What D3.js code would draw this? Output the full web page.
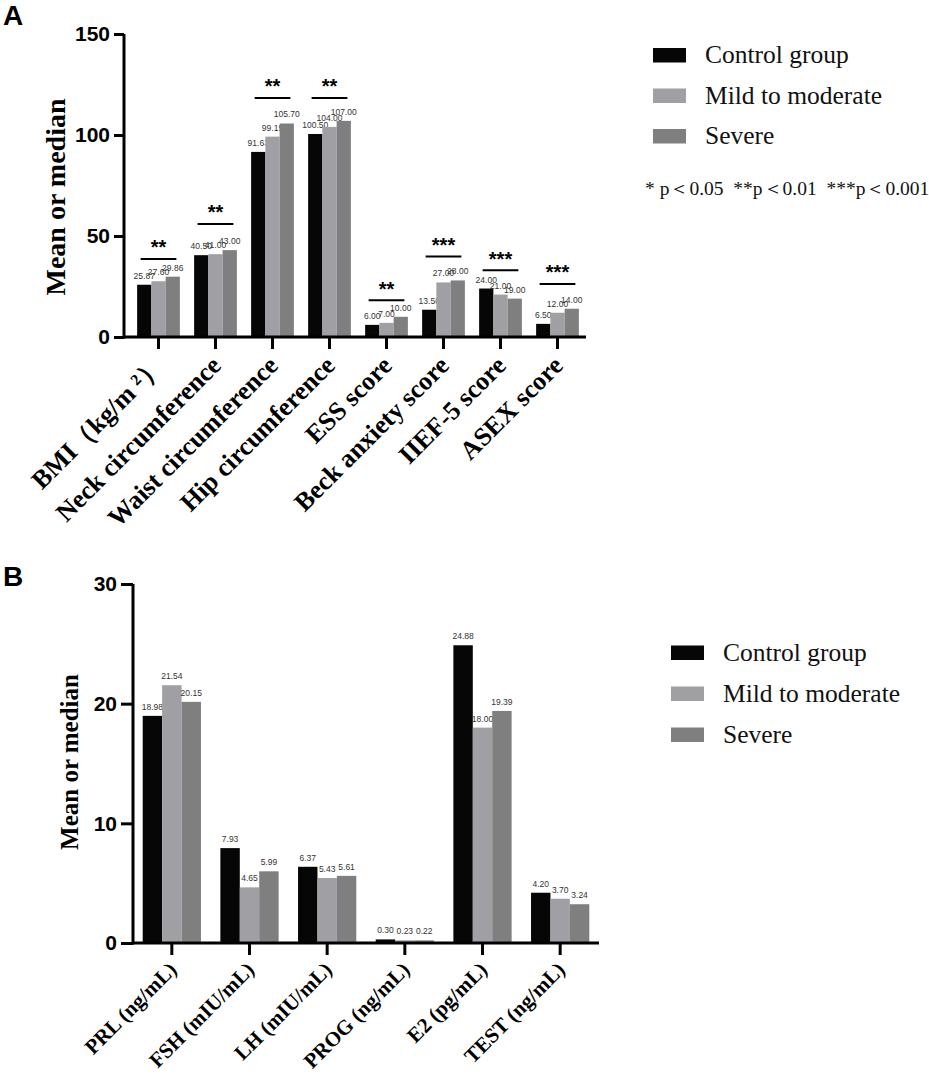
<!DOCTYPE html>
<html><head><meta charset="utf-8">
<script src="https://cdn.jsdelivr.net/npm/d3@7/dist/d3.min.js"></script>
<style>body{margin:0;background:#fff}</style>
</head><body>
<svg id="c" width="929" height="1077"></svg>
<script>
// ---------- data ----------
const groups = ["Control group", "Mild to moderate", "Severe"];
const colors = ["#060607", "#a0a0a4", "#7f7f80"];

const catsA = ["BMI（kg/m ²）", "Neck circumference", "Waist circumference", "Hip circumference",
  "ESS score", "Beck anxiety score", "IIEF-5 score", "ASEX score"];
const controlA = [25.87, 40.50, 91.63, 100.50, 6.00, 13.50, 24.00, 6.50];
const mildA    = [27.60, 41.00, 99.19, 104.00, 7.00, 27.00, 21.00, 12.00];
const severeA  = [29.86, 43.00, 105.70, 107.00, 10.00, 28.00, 19.00, 14.00];
const sigA     = ["**", "**", "**", "**", "**", "***", "***", "***"];
const sigLevelA = [38.6, 56, 118.3, 118.3, 18.2, 39.8, 33, 26.2];
const ticksA = [0, 50, 100, 150];

const catsB = ["PRL (ng/mL)", "FSH (mIU/mL)", "LH (mIU/mL)", "PROG (ng/mL)", "E2 (pg/mL)", "TEST (ng/mL)"];
const controlB = [18.98, 7.93, 6.37, 0.30, 24.88, 4.20];
const mildB    = [21.54, 4.65, 5.43, 0.23, 18.00, 3.70];
const severeB  = [20.15, 5.99, 5.61, 0.22, 19.39, 3.24];
const ticksB = [0, 10, 20, 30];

const pNote = "* p＜0.05  **p＜0.01  ***p＜0.001";

// ---------- drawing ----------
const svg = d3.select("#c");
const fmt = d3.format(".2f");
const SANS = "Liberation Sans, Arial, sans-serif";
const SERIF = "Liberation Serif, Times New Roman, serif";

function panel(cfg) {
  const g = svg.append("g");
  const x = d3.scaleBand().domain(cfg.cats).range(cfg.xRange).paddingInner(0.25).paddingOuter(0.125);
  const x1 = d3.scaleBand().domain(groups).range([0, x.bandwidth()]);
  const y = d3.scaleLinear().domain(cfg.yDomain).range(cfg.yRange);
  const series = [cfg.control, cfg.mild, cfg.severe];

  // bars
  cfg.cats.forEach((c, i) => {
    groups.forEach((grp, k) => {
      const v = series[k][i];
      g.append("rect")
        .attr("x", x(c) + x1(grp)).attr("width", x1.bandwidth())
        .attr("y", y(v)).attr("height", y(0) - y(v))
        .attr("fill", colors[k]);
      g.append("text")
        .attr("x", x(c) + x1(grp) + x1.bandwidth() / 2)
        .attr("y", y(v) - 6)
        .attr("text-anchor", "middle")
        .attr("font-family", SANS).attr("font-size", 8.5).attr("fill", "#333")
        .text(fmt(v));
    });
  });

  // significance
  if (cfg.sig) {
    cfg.cats.forEach((c, i) => {
      const yy = y(cfg.sigLevel[i]);
      g.append("line")
        .attr("x1", x(c) + 3.5).attr("x2", x(c) + x.bandwidth() - 3.5)
        .attr("y1", yy).attr("y2", yy)
        .attr("stroke", "#000").attr("stroke-width", 2);
      g.append("text")
        .attr("x", x(c) + x.bandwidth() / 2).attr("y", yy - 4.7)
        .attr("text-anchor", "middle")
        .attr("font-family", SANS).attr("font-weight", "bold").attr("font-size", 20)
        .text(cfg.sig[i]);
    });
  }

  // y axis
  const ya = g.append("g").attr("transform", `translate(${cfg.axisX},0)`)
    .call(d3.axisLeft(y).tickValues(cfg.ticks).tickSize(cfg.yTick).tickSizeOuter(0).tickPadding(4));
  ya.select(".domain").attr("stroke-width", 3).attr("d", `M0,${y(0) + 1.5}V${y(cfg.yDomain[1])}`);
  ya.selectAll(".tick line").attr("stroke-width", 3);
  ya.selectAll(".tick text").attr("font-family", SANS).attr("font-weight", "bold")
    .attr("font-size", 21).attr("fill", "#000");

  // x axis
  const xa = g.append("g").attr("transform", `translate(0,${y(0)})`)
    .call(d3.axisBottom(x).tickSize(12).tickSizeOuter(0));
  xa.select(".domain").attr("stroke-width", 3).attr("d", `M${cfg.axisX},0H${cfg.xRange[1]}`);
  xa.selectAll(".tick line").attr("stroke-width", 3);
  xa.selectAll(".tick text")
    .attr("x", 0).attr("y", 0).attr("dy", 0)
    .attr("transform", `translate(${cfg.lblDx},${cfg.lblDy}) rotate(-45)`)
    .attr("text-anchor", "end")
    .attr("font-family", SERIF).attr("font-weight", "bold")
    .attr("font-size", cfg.xFont).attr("fill", "#000");

  // y title
  g.append("text")
    .attr("transform", `translate(${cfg.titleX},${cfg.titleY}) rotate(-90)`)
    .attr("text-anchor", "middle")
    .attr("font-family", SERIF).attr("font-weight", "bold").attr("font-size", cfg.titleFont)
    .text("Mean or median");

  // panel letter
  g.append("text").attr("x", 3).attr("y", cfg.letterY)
    .attr("font-family", SANS).attr("font-weight", "bold").attr("font-size", 28)
    .text(cfg.letter);

  // legend
  groups.forEach((grp, k) => {
    const by = cfg.legY + k * cfg.legStep;
    g.append("rect").attr("x", cfg.legX).attr("y", by - 15).attr("width", 33).attr("height", 14.5)
      .attr("fill", colors[k]);
    g.append("text").attr("x", cfg.legX + 52).attr("y", by)
      .attr("font-family", SERIF).attr("font-size", 25.5).attr("fill", "#111")
      .text(grp);
  });
}

panel({
  letter: "A", letterY: 25,
  cats: catsA, control: controlA, mild: mildA, severe: severeA,
  sig: sigA, sigLevel: sigLevelA, ticks: ticksA,
  xRange: [130, 586], yDomain: [0, 150], yRange: [337, 34], axisX: 124, yTick: 10,
  lblDx: 7, lblDy: 30, xFont: 26,
  titleX: 65, titleY: 197, titleFont: 28,
  legX: 653, legY: 63, legStep: 40.5
});

panel({
  letter: "B", letterY: 586,
  cats: catsB, control: controlB, mild: mildB, severe: severeB,
  ticks: ticksB,
  xRange: [133, 599], yDomain: [0, 30], yRange: [943, 584], axisX: 133, yTick: 12,
  lblDx: 6, lblDy: 28, xFont: 21,
  titleX: 78, titleY: 762, titleFont: 25,
  legX: 671, legY: 660.5, legStep: 41
});

svg.append("text").attr("x", 645).attr("y", 195)
  .attr("font-family", SERIF).attr("font-size", 19.5).attr("fill", "#111")
  .attr("xml:space", "preserve").style("white-space", "pre")
  .text(pNote);
</script>
</body></html>
